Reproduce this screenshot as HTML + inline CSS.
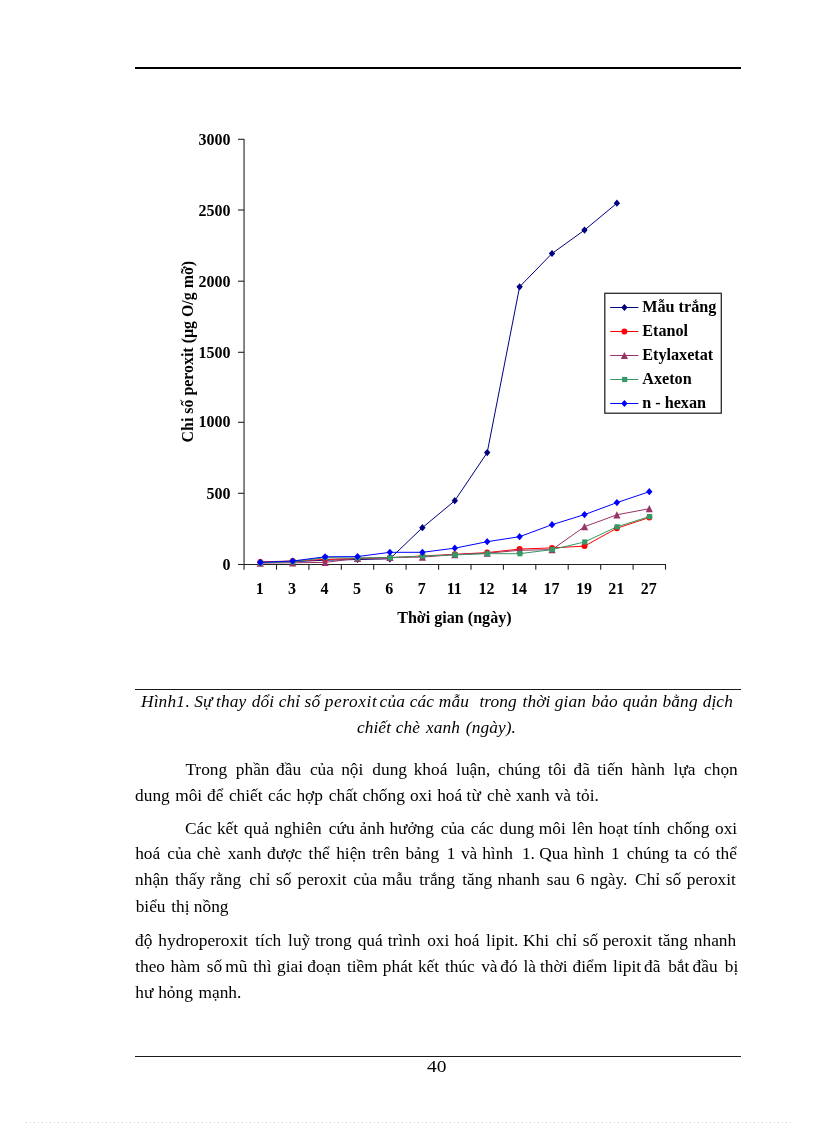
<!DOCTYPE html>
<html lang="vi"><head><meta charset="utf-8"><title>40</title>
<style>
html,body{margin:0;padding:0;background:#fff}
body{width:816px;height:1123px;position:relative;overflow:hidden;font-family:"Liberation Serif",serif;color:#000}
.ln{position:absolute;left:0;width:816px;white-space:pre;font-size:17.33px;line-height:26px;height:26px}
.ln span{position:absolute;top:0}
.cap{font-style:italic;letter-spacing:.1px}
.rule{position:absolute;background:#000}
</style></head><body>
<div class="rule" style="left:135px;top:67px;width:606px;height:2px"></div>

<svg width="816" height="1123" viewBox="0 0 816 1123" style="position:absolute;left:0;top:0" font-family="'Liberation Serif', serif" font-weight="bold" font-size="16px" fill="#000">
<g stroke="#222" stroke-width="1.1" fill="none">
<path d="M244.05 138.9V569.7"/>
<path d="M238.05 564.5H666.0"/>
<path d="M238.05 493.3H244.05"/>
<path d="M238.05 422.3H244.05"/>
<path d="M238.05 352.3H244.05"/>
<path d="M238.05 281.2H244.05"/>
<path d="M238.05 210.0H244.05"/>
<path d="M238.05 139.3H244.05"/>
<path d="M276.5 564.5v5.2"/>
<path d="M308.9 564.5v5.2"/>
<path d="M341.3 564.5v5.2"/>
<path d="M373.7 564.5v5.2"/>
<path d="M406.1 564.5v5.2"/>
<path d="M438.6 564.5v5.2"/>
<path d="M471.0 564.5v5.2"/>
<path d="M503.4 564.5v5.2"/>
<path d="M535.8 564.5v5.2"/>
<path d="M568.2 564.5v5.2"/>
<path d="M600.7 564.5v5.2"/>
<path d="M633.1 564.5v5.2"/>
<path d="M665.5 564.5v5.2"/>
</g>
<text x="230.6" y="569.8" text-anchor="end">0</text>
<text x="230.6" y="498.9" text-anchor="end">500</text>
<text x="230.6" y="427.4" text-anchor="end">1000</text>
<text x="230.6" y="357.6" text-anchor="end">1500</text>
<text x="230.6" y="286.6" text-anchor="end">2000</text>
<text x="230.6" y="215.9" text-anchor="end">2500</text>
<text x="230.6" y="144.9" text-anchor="end">3000</text>
<text x="259.7" y="593.8" text-anchor="middle">1</text>
<text x="292.1" y="593.8" text-anchor="middle">3</text>
<text x="324.5" y="593.8" text-anchor="middle">4</text>
<text x="356.9" y="593.8" text-anchor="middle">5</text>
<text x="389.3" y="593.8" text-anchor="middle">6</text>
<text x="421.8" y="593.8" text-anchor="middle">7</text>
<text x="454.2" y="593.8" text-anchor="middle">11</text>
<text x="486.6" y="593.8" text-anchor="middle">12</text>
<text x="519.0" y="593.8" text-anchor="middle">14</text>
<text x="551.4" y="593.8" text-anchor="middle">17</text>
<text x="583.9" y="593.8" text-anchor="middle">19</text>
<text x="616.3" y="593.8" text-anchor="middle">21</text>
<text x="648.7" y="593.8" text-anchor="middle">27</text>
<text x="454.4" y="622.6" text-anchor="middle" font-size="16.1px">Thời gian (ngày)</text>
<text transform="translate(192.9 351.7) rotate(-90)" text-anchor="middle" font-size="15.9px">Chi số peroxit (µg O/g mỡ)</text>
<polyline points="260.3,562.4 292.7,561.7 325.1,560.2 357.5,559.5 389.9,558.8 422.4,527.7 454.8,500.7 487.2,452.6 519.6,286.8 552.0,253.5 584.5,230.1 616.9,203.2" fill="none" stroke="#000080" stroke-width="1.0"/>
<path d="M260.3 558.8L263.5 562.4L260.3 566.0L257.1 562.4Z" fill="#000080"/>
<path d="M292.7 558.1L295.9 561.7L292.7 565.3L289.5 561.7Z" fill="#000080"/>
<path d="M325.1 556.6L328.3 560.2L325.1 563.8L321.9 560.2Z" fill="#000080"/>
<path d="M357.5 555.9L360.7 559.5L357.5 563.1L354.3 559.5Z" fill="#000080"/>
<path d="M389.9 555.2L393.1 558.8L389.9 562.4L386.7 558.8Z" fill="#000080"/>
<path d="M422.4 524.1L425.6 527.7L422.4 531.3L419.2 527.7Z" fill="#000080"/>
<path d="M454.8 497.1L458.0 500.7L454.8 504.3L451.6 500.7Z" fill="#000080"/>
<path d="M487.2 449.0L490.4 452.6L487.2 456.2L484.0 452.6Z" fill="#000080"/>
<path d="M519.6 283.2L522.8 286.8L519.6 290.4L516.4 286.8Z" fill="#000080"/>
<path d="M552.0 249.9L555.2 253.5L552.0 257.1L548.8 253.5Z" fill="#000080"/>
<path d="M584.5 226.5L587.7 230.1L584.5 233.7L581.3 230.1Z" fill="#000080"/>
<path d="M616.9 199.6L620.1 203.2L616.9 206.8L613.7 203.2Z" fill="#000080"/>
<polyline points="260.3,561.9 292.7,561.0 325.1,559.4 357.5,558.5 389.9,557.8 422.4,556.0 454.8,554.3 487.2,552.6 519.6,549.1 552.0,547.9 584.5,546.1 616.9,528.2 649.3,517.5" fill="none" stroke="#ff0000" stroke-width="1.0"/>
<circle cx="260.3" cy="561.9" r="3.0" fill="#ff0000"/>
<circle cx="292.7" cy="561.0" r="3.0" fill="#ff0000"/>
<circle cx="325.1" cy="559.4" r="3.0" fill="#ff0000"/>
<circle cx="357.5" cy="558.5" r="3.0" fill="#ff0000"/>
<circle cx="389.9" cy="557.8" r="3.0" fill="#ff0000"/>
<circle cx="422.4" cy="556.0" r="3.0" fill="#ff0000"/>
<circle cx="454.8" cy="554.3" r="3.0" fill="#ff0000"/>
<circle cx="487.2" cy="552.6" r="3.0" fill="#ff0000"/>
<circle cx="519.6" cy="549.1" r="3.0" fill="#ff0000"/>
<circle cx="552.0" cy="547.9" r="3.0" fill="#ff0000"/>
<circle cx="584.5" cy="546.1" r="3.0" fill="#ff0000"/>
<circle cx="616.9" cy="528.2" r="3.0" fill="#ff0000"/>
<circle cx="649.3" cy="517.5" r="3.0" fill="#ff0000"/>
<polyline points="260.3,563.1 292.7,562.8 325.1,562.4 357.5,558.3 389.9,557.4 422.4,557.1 454.8,554.6 487.2,553.2 519.6,550.3 552.0,549.6 584.5,526.7 616.9,514.8 649.3,508.7" fill="none" stroke="#993366" stroke-width="1.0"/>
<path d="M260.3 559.5L263.9 566.7L256.7 566.7Z" fill="#993366"/>
<path d="M292.7 559.2L296.3 566.4L289.1 566.4Z" fill="#993366"/>
<path d="M325.1 558.8L328.7 566.0L321.5 566.0Z" fill="#993366"/>
<path d="M357.5 554.7L361.1 561.9L353.9 561.9Z" fill="#993366"/>
<path d="M389.9 553.8L393.5 561.0L386.3 561.0Z" fill="#993366"/>
<path d="M422.4 553.5L426.0 560.7L418.8 560.7Z" fill="#993366"/>
<path d="M454.8 551.0L458.4 558.2L451.2 558.2Z" fill="#993366"/>
<path d="M487.2 549.6L490.8 556.8L483.6 556.8Z" fill="#993366"/>
<path d="M519.6 546.7L523.2 553.9L516.0 553.9Z" fill="#993366"/>
<path d="M552.0 546.0L555.6 553.2L548.4 553.2Z" fill="#993366"/>
<path d="M584.5 523.1L588.1 530.3L580.9 530.3Z" fill="#993366"/>
<path d="M616.9 511.2L620.5 518.4L613.3 518.4Z" fill="#993366"/>
<path d="M649.3 505.1L652.9 512.3L645.7 512.3Z" fill="#993366"/>
<polyline points="260.3,562.8 292.7,561.7 325.1,557.7 357.5,558.0 389.9,557.6 422.4,556.1 454.8,554.9 487.2,553.7 519.6,553.7 552.0,549.6 584.5,542.0 616.9,526.8 649.3,516.6" fill="none" stroke="#339966" stroke-width="1.0"/>
<rect x="258.0" y="560.2" width="5.2" height="5.2" fill="#339966"/>
<rect x="290.4" y="559.1" width="5.2" height="5.2" fill="#339966"/>
<rect x="322.8" y="555.1" width="5.2" height="5.2" fill="#339966"/>
<rect x="355.2" y="555.4" width="5.2" height="5.2" fill="#339966"/>
<rect x="387.6" y="555.0" width="5.2" height="5.2" fill="#339966"/>
<rect x="420.1" y="553.5" width="5.2" height="5.2" fill="#339966"/>
<rect x="452.5" y="552.3" width="5.2" height="5.2" fill="#339966"/>
<rect x="484.9" y="551.1" width="5.2" height="5.2" fill="#339966"/>
<rect x="517.3" y="551.1" width="5.2" height="5.2" fill="#339966"/>
<rect x="549.7" y="547.0" width="5.2" height="5.2" fill="#339966"/>
<rect x="582.2" y="539.4" width="5.2" height="5.2" fill="#339966"/>
<rect x="614.6" y="524.2" width="5.2" height="5.2" fill="#339966"/>
<rect x="647.0" y="514.0" width="5.2" height="5.2" fill="#339966"/>
<polyline points="260.3,562.4 292.7,561.0 325.1,556.8 357.5,556.6 389.9,552.3 422.4,552.3 454.8,548.2 487.2,541.7 519.6,536.7 552.0,524.7 584.5,514.6 616.9,502.6 649.3,491.7" fill="none" stroke="#0000ff" stroke-width="1.0"/>
<path d="M260.3 558.8L263.5 562.4L260.3 566.0L257.1 562.4Z" fill="#0000ff"/>
<path d="M292.7 557.4L295.9 561.0L292.7 564.6L289.5 561.0Z" fill="#0000ff"/>
<path d="M325.1 553.2L328.3 556.8L325.1 560.4L321.9 556.8Z" fill="#0000ff"/>
<path d="M357.5 553.0L360.7 556.6L357.5 560.2L354.3 556.6Z" fill="#0000ff"/>
<path d="M389.9 548.7L393.1 552.3L389.9 555.9L386.7 552.3Z" fill="#0000ff"/>
<path d="M422.4 548.7L425.6 552.3L422.4 555.9L419.2 552.3Z" fill="#0000ff"/>
<path d="M454.8 544.6L458.0 548.2L454.8 551.8L451.6 548.2Z" fill="#0000ff"/>
<path d="M487.2 538.1L490.4 541.7L487.2 545.3L484.0 541.7Z" fill="#0000ff"/>
<path d="M519.6 533.1L522.8 536.7L519.6 540.3L516.4 536.7Z" fill="#0000ff"/>
<path d="M552.0 521.1L555.2 524.7L552.0 528.3L548.8 524.7Z" fill="#0000ff"/>
<path d="M584.5 511.0L587.7 514.6L584.5 518.2L581.3 514.6Z" fill="#0000ff"/>
<path d="M616.9 499.0L620.1 502.6L616.9 506.2L613.7 502.6Z" fill="#0000ff"/>
<path d="M649.3 488.1L652.5 491.7L649.3 495.3L646.1 491.7Z" fill="#0000ff"/>
<rect x="604.8" y="293.3" width="116.5" height="119.9" fill="#fff" stroke="#2a2a2a" stroke-width="1.3"/>
<path d="M610.2 307.5H638.4" stroke="#000080" stroke-width="1.0"/>
<path d="M624.4 303.9L627.6 307.5L624.4 311.1L621.2 307.5Z" fill="#000080"/>
<text x="642.2" y="311.6" font-size="16.2px">Mẫu trắng</text>
<path d="M610.2 331.5H638.4" stroke="#ff0000" stroke-width="1.0"/>
<circle cx="624.4" cy="331.5" r="3.0" fill="#ff0000"/>
<text x="642.2" y="335.6" font-size="16.2px">Etanol</text>
<path d="M610.2 355.5H638.4" stroke="#993366" stroke-width="1.0"/>
<path d="M624.4 351.9L628.0 359.1L620.8 359.1Z" fill="#993366"/>
<text x="642.2" y="359.6" font-size="16.2px">Etylaxetat</text>
<path d="M610.2 379.5H638.4" stroke="#339966" stroke-width="1.0"/>
<rect x="622.1" y="376.9" width="5.2" height="5.2" fill="#339966"/>
<text x="642.2" y="383.6" font-size="16.2px">Axeton</text>
<path d="M610.2 403.5H638.4" stroke="#0000ff" stroke-width="1.0"/>
<path d="M624.4 399.9L627.6 403.5L624.4 407.1L621.2 403.5Z" fill="#0000ff"/>
<text x="642.2" y="407.6" font-size="16.2px">n - hexan</text>
</svg>
<div class="rule" style="left:135px;top:689px;width:606px;height:1px;background:#1a1a1a"></div>
<div class="ln cap" style="top:689px"><span style="left:141.1px">Hình1 </span><span style="left:185.5px">. </span><span style="left:194.2px">Sự </span><span style="left:216.1px">thay </span><span style="left:251.7px">dổi </span><span style="left:278.8px">chỉ </span><span style="left:304.6px">số </span><span style="left:324.7px;letter-spacing:.6px">peroxit </span><span style="left:379.6px">của </span><span style="left:409.8px">các </span><span style="left:438.8px">mẫu </span><span style="left:479.4px">trong </span><span style="left:522.6px">thời </span><span style="left:554.8px">gian </span><span style="left:591.6px">bảo </span><span style="left:622.8px">quản </span><span style="left:662.6px">bằng </span><span style="left:702.7px">dịch</span></div>
<div class="ln cap" style="top:715px"><span style="left:356.9px">chiết </span><span style="left:395.8px">chè </span><span style="left:426.0px">xanh </span><span style="left:465.8px">(ngày).</span></div>
<div class="ln" style="top:757px"><span style="left:185.4px">Trong </span><span style="left:235.8px">phần </span><span style="left:276.1px">đầu </span><span style="left:309.9px">của </span><span style="left:341.2px">nội </span><span style="left:372.3px">dung </span><span style="left:413.7px">khoá </span><span style="left:456.1px">luận, </span><span style="left:498.0px">chúng </span><span style="left:548.1px">tôi </span><span style="left:573.6px">đã </span><span style="left:597.3px">tiến </span><span style="left:631.2px">hành </span><span style="left:673.6px">lựa </span><span style="left:704.1px">chọn</span></div>
<div class="ln" style="top:783px"><span style="left:135.1px">dung </span><span style="left:175.2px">môi </span><span style="left:207.0px">để </span><span style="left:228.9px">chiết </span><span style="left:268.0px">các </span><span style="left:296.4px">hợp </span><span style="left:328.8px">chất </span><span style="left:362.5px">chống </span><span style="left:409.9px">oxi </span><span style="left:437.2px">hoá </span><span style="left:466.6px">từ </span><span style="left:487.1px">chè </span><span style="left:515.9px">xanh </span><span style="left:554.7px">và </span><span style="left:576.3px">tỏi.</span></div>
<div class="ln" style="top:816px"><span style="left:184.9px">Các </span><span style="left:216.9px">kết </span><span style="left:244.1px">quả </span><span style="left:274.6px">nghiên </span><span style="left:328.8px">cứu </span><span style="left:359.6px">ảnh </span><span style="left:389.4px">hưởng </span><span style="left:440.7px">của </span><span style="left:470.7px">các </span><span style="left:499.6px">dung </span><span style="left:538.8px">môi </span><span style="left:572.1px">lên </span><span style="left:598.4px">hoạt </span><span style="left:633.3px">tính </span><span style="left:667.1px">chống </span><span style="left:715.0px">oxi</span></div>
<div class="ln" style="top:841px"><span style="left:135.2px">hoá </span><span style="left:167.3px">của </span><span style="left:196.7px">chè </span><span style="left:227.7px">xanh </span><span style="left:267.1px">được </span><span style="left:308.6px">thể </span><span style="left:336.2px">hiện </span><span style="left:372.3px">trên </span><span style="left:405.4px">bảng </span><span style="left:446.7px">1 </span><span style="left:460.9px">và </span><span style="left:482.2px">hình </span><span style="left:521.9px">1. </span><span style="left:539.3px">Qua </span><span style="left:573.4px">hình </span><span style="left:611.1px">1 </span><span style="left:626.7px">chúng </span><span style="left:674.7px">ta </span><span style="left:693.6px">có </span><span style="left:715.8px">thể</span></div>
<div class="ln" style="top:867px"><span style="left:135.1px">nhận </span><span style="left:175.3px">thấy </span><span style="left:210.3px">rằng </span><span style="left:249.2px">chỉ </span><span style="left:276.0px">số </span><span style="left:297.5px">peroxit </span><span style="left:353.2px">của </span><span style="left:382.2px">mẫu </span><span style="left:419.3px">trắng </span><span style="left:462.3px">tăng </span><span style="left:497.5px">nhanh </span><span style="left:546.8px">sau </span><span style="left:576.1px">6 </span><span style="left:590.5px">ngày. </span><span style="left:635.1px">Chỉ </span><span style="left:665.7px">số </span><span style="left:686.8px">peroxit</span></div>
<div class="ln" style="top:894px"><span style="left:135.7px">biểu </span><span style="left:171.3px">thị </span><span style="left:193.8px">nồng</span></div>
<div class="ln" style="top:928px"><span style="left:135.1px">độ </span><span style="left:158.3px">hydroperoxit </span><span style="left:255.3px">tích </span><span style="left:288.1px">luỹ </span><span style="left:315.0px">trong </span><span style="left:357.7px">quá </span><span style="left:387.7px">trình </span><span style="left:427.2px">oxi </span><span style="left:454.4px">hoá </span><span style="left:486.1px">lipit. </span><span style="left:523.0px">Khi </span><span style="left:555.9px">chỉ </span><span style="left:582.7px">số </span><span style="left:602.7px">peroxit </span><span style="left:658.0px">tăng </span><span style="left:693.8px">nhanh</span></div>
<div class="ln" style="top:954px"><span style="left:135.2px">theo </span><span style="left:170.4px">hàm </span><span style="left:206.7px">số </span><span style="left:225.3px">mũ </span><span style="left:253.3px">thì </span><span style="left:277.1px">giai </span><span style="left:307.3px">đoạn </span><span style="left:346.9px">tiềm </span><span style="left:382.8px">phát </span><span style="left:417.9px">kết </span><span style="left:444.9px">thúc </span><span style="left:481.2px">và </span><span style="left:500.3px">đó </span><span style="left:523.5px">là </span><span style="left:540.0px">thời </span><span style="left:572.5px">điểm </span><span style="left:613.1px">lipit </span><span style="left:644.1px">đã </span><span style="left:668.2px">bắt </span><span style="left:692.6px">đầu </span><span style="left:724.8px">bị</span></div>
<div class="ln" style="top:980px"><span style="left:135.3px">hư </span><span style="left:158.2px">hỏng </span><span style="left:198.5px">mạnh.</span></div>
<div class="rule" style="left:135px;top:1056px;width:606px;height:1px;background:#1a1a1a"></div>
<div class="ln" style="top:1053px"><span style="left:427.3px;transform:translateY(.6px) scaleX(1.12);transform-origin:0 0">40</span></div>
<div style="position:absolute;left:26px;top:1122px;width:766px;height:1px;background:repeating-linear-gradient(90deg,#d2d2d2 0,#d2d2d2 1px,transparent 1px,transparent 4px)"></div>
</body></html>
